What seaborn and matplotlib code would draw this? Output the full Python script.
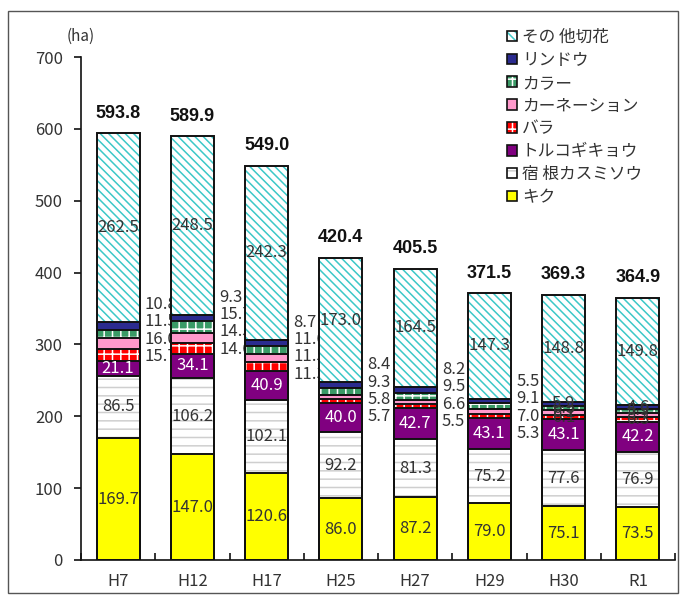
import matplotlib
matplotlib.use("Agg")
import matplotlib.pyplot as plt
import matplotlib.patches as mpatches
import numpy as np
import seaborn as sns

# 切花の品目別作付面積 (ha)
years = ["H7", "H12", "H17", "H25", "H27", "H29", "H30", "R1"]
kiku = [169.7, 147.0, 120.6, 86.0, 87.2, 79.0, 75.1, 73.5]
kasumisou = [86.5, 106.2, 102.1, 92.2, 81.3, 75.2, 77.6, 76.9]
torukogikyou = [21.1, 34.1, 40.9, 40.0, 42.7, 43.1, 43.1, 42.2]
bara = [15.7, 14.6, 11.3, 5.7, 5.5, 5.3, 6.1, 6.3]
carnation = [16.0, 14.5, 11.5, 5.8, 6.6, 7.0, 6.2, 5.7]
calla = [11.5, 15.7, 11.6, 9.3, 9.5, 9.1, 6.5, 5.9]
rindou = [10.8, 9.3, 8.7, 8.4, 8.2, 5.5, 5.9, 4.6]
sonota = [262.5, 248.5, 242.3, 173.0, 164.5, 147.3, 148.8, 149.8]

names = ["キク", "宿 根カスミソウ", "トルコギキョウ", "バラ",
         "カーネーション", "カラー", "リンドウ", "その 他切花"]
series = [kiku, kasumisou, torukogikyou, bara, carnation, calla, rindou, sonota]

# face colour, hatch pattern, hatch colour
styles = [
    ("#FFFF00", None, None),
    ("#FFFFFF", "--", "#CFCFCF"),
    ("#800080", None, None),
    ("#FF0000", "++", "#FFFFFF"),
    ("#FF99CC", None, None),
    ("#3A9A66", "++", "#FFFFFF"),
    ("#2B2B8F", None, None),
    ("#FFFFFF", "\\\\\\\\", "#3CC8C8"),
]

sns.set_theme(style="white")
plt.rcParams["font.family"] = ["Noto Sans CJK JP", "DejaVu Sans"]
plt.rcParams["hatch.linewidth"] = 1.1

fig = plt.figure(figsize=(6.83, 5.98), dpi=100)
ax = fig.add_axes([81 / 683, 38 / 598, 594 / 683, 503 / 598])

data = np.array(series)
cum = np.cumsum(data, axis=0)
bar_w = 0.58

# stacked bars drawn from the tallest cumulative layer downwards
for k in range(len(series) - 1, -1, -1):
    face, hatch, hcol = styles[k]
    n0 = len(ax.patches)
    sns.barplot(x=years, y=cum[k], order=years, color=face, saturation=1,
                width=bar_w, errorbar=None, ax=ax, linewidth=0, zorder=3)
    for p in ax.patches[n0:]:
        p.set_facecolor(face)
        if hatch:
            p.set_hatch(hatch)
            p.set_edgecolor(hcol)
        else:
            p.set_edgecolor(face)
        p.set_linewidth(0)
    n1 = len(ax.patches)
    sns.barplot(x=years, y=cum[k], order=years, color=face, saturation=1,
                width=bar_w, errorbar=None, ax=ax, zorder=3.5)
    for p in ax.patches[n1:]:
        p.set_facecolor("none")
        p.set_edgecolor("#111111")
        p.set_linewidth(1.4)

txt_col = "#333333"
fs = 12

# values inside the large segments
for k in [0, 1, 2, 7]:
    for i, v in enumerate(series[k]):
        ymid = cum[k][i] - v / 2
        ax.text(i, ymid, f"{v:.1f}", ha="center", va="center", fontsize=fs,
                color="white" if k == 2 else txt_col, zorder=5)

# values of the thin segments (リンドウ, カラー, カーネーション, バラ)
small = [6, 5, 4, 3]
for i in range(len(years)):
    if i < 6:
        top = cum[6][i]
        for j, k in enumerate(small):
            y = top + 24 - 24 * j
            ax.text(i + bar_w / 2 + 0.07, y, f"{series[k][i]:.1f}", ha="left",
                    va="center", fontsize=fs, color=txt_col, zorder=2)
    else:
        for k in small:
            ymid = cum[k][i] - series[k][i] / 2
            ax.text(i, ymid, f"{series[k][i]:.1f}", ha="center", va="center",
                    fontsize=fs, color=txt_col, zorder=5)

# totals above each bar
totals = cum[-1]
for i, t in enumerate(totals):
    ax.text(i, t + 16, f"{t:.1f}", ha="center", va="bottom", fontsize=13,
            fontweight="bold", family=["Liberation Sans", "DejaVu Sans"],
            color="#111111", zorder=5)

ax.set_xlim(-0.5, len(years) - 0.5)
ax.set_ylim(0, 700)
ax.set_yticks(range(0, 701, 100))
ax.set_xlabel("")
ax.set_ylabel("")
ax.set_xticks(np.arange(-0.5, len(years), 1.0), minor=True)
ax.tick_params(axis="x", which="major", length=0, pad=9, labelsize=12,
               labelcolor=txt_col)
ax.tick_params(axis="x", which="minor", direction="in", length=5, width=1.2,
               color="#111111", bottom=True)
ax.tick_params(axis="y", which="major", direction="out", length=5, width=1.2,
               color="#111111", left=True, labelsize=12, labelcolor=txt_col,
               pad=8)
for side in ["top", "right"]:
    ax.spines[side].set_visible(False)
for side in ["left", "bottom"]:
    ax.spines[side].set_color("#111111")
    ax.spines[side].set_linewidth(1.2)

ax.text(0.0, 1.025, "(ha)", transform=ax.transAxes, ha="center", va="bottom",
        fontsize=11, color=txt_col)

# legend swatches: hatched fill with a dark outline on top
handles = []
for k in range(len(series) - 1, -1, -1):
    face, hatch, hcol = styles[k]
    fill = mpatches.Patch(facecolor=face, edgecolor=hcol if hatch else face,
                          hatch=hatch, linewidth=0)
    edge = mpatches.Patch(facecolor="none", edgecolor="#111111", linewidth=1.2)
    handles.append((fill, edge))
fig.legend(handles=handles, labels=[names[k] for k in range(len(series) - 1, -1, -1)],
           loc="upper left", bbox_to_anchor=(492 / 683, 1 - 14 / 598),
           frameon=False, fontsize=12, handlelength=0.6, handleheight=0.6,
           handletextpad=0.3, labelspacing=0.35, labelcolor=txt_col)

# chart area frame
fig.patches.append(mpatches.Rectangle((8 / 683, 5 / 598), 670 / 683, 582 / 598,
                                      transform=fig.transFigure, fill=False,
                                      edgecolor="#555555", linewidth=1.0))

fig.savefig("out.png", dpi=100)
